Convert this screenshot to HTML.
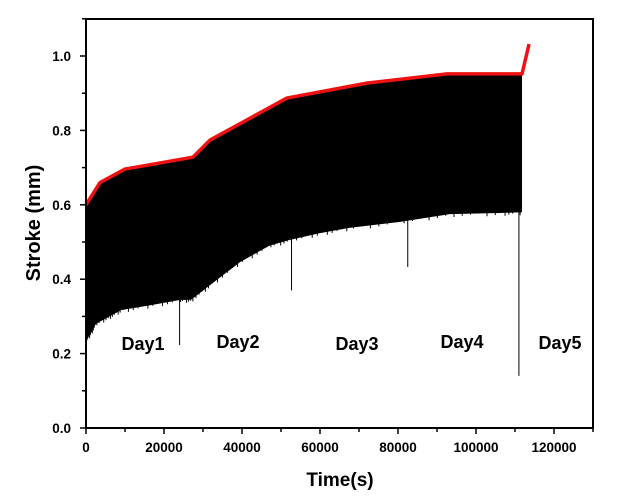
<!DOCTYPE html>
<html><head><meta charset="utf-8"><style>
body{margin:0;background:#fff}
svg text{font-family:"Liberation Sans",Arial,sans-serif;font-weight:bold}
</style></head><body>
<svg id="chart" width="623" height="495" viewBox="0 0 623 495" xmlns="http://www.w3.org/2000/svg">
<g id="plot"></g>
<rect x="86" y="19" width="507" height="409" fill="none" stroke="#000" stroke-width="2"/>
<g id="axes"></g>
<text transform="translate(40,223) rotate(-90)" text-anchor="middle" font-size="20">Stroke (mm)</text>
<text x="340" y="486" text-anchor="middle" font-size="19">Time(s)</text>
<text x="143" y="350" text-anchor="middle" font-size="18">Day1</text>
<text x="238" y="348" text-anchor="middle" font-size="18">Day2</text>
<text x="357" y="350" text-anchor="middle" font-size="18">Day3</text>
<text x="462" y="348" text-anchor="middle" font-size="18">Day4</text>
<text x="560" y="349" text-anchor="middle" font-size="18">Day5</text>
</svg>
<script>
const envTime=[0,3600,10000,27400,31800,51500,72000,92600,111800];
const envUpper=[0.6,0.66,0.696,0.728,0.774,0.887,0.927,0.952,0.952];
const redTime=[0,3600,10000,27400,31800,51500,72000,92600,111800,113600];
const redStroke=[0.6,0.66,0.696,0.728,0.774,0.887,0.927,0.952,0.952,1.032];
const lowTime=[0,1000,2500,6000,9000,16500,24000,27000,31800,39500,47000,52000,60000,67500,80500,93300,106000,111800];
const lowStroke=[0.242,0.25,0.28,0.3,0.317,0.33,0.344,0.345,0.384,0.446,0.49,0.505,0.524,0.538,0.554,0.575,0.578,0.58];
const spikeTime=[24000,52700,82500,111000];
const spikeStroke=[0.223,0.37,0.433,0.14];
const xTicks=[0,20000,40000,60000,80000,100000,120000];
const yTicks=[0.0,0.2,0.4,0.6,0.8,1.0];
const X=v=>86+v/20000*78, Y=v=>428-v*372;
const NS="http://www.w3.org/2000/svg";
const plot=document.getElementById('plot'), axes=document.getElementById('axes');
function mk(tag,attrs,parent){const e=document.createElementNS(NS,tag);for(const k in attrs)e.setAttribute(k,attrs[k]);parent.appendChild(e);return e;}
function lowAt(t){for(let i=0;i<lowTime.length-1;i++){if(t<=lowTime[i+1]){const f=(t-lowTime[i])/(lowTime[i+1]-lowTime[i]);return lowStroke[i]+f*(lowStroke[i+1]-lowStroke[i]);}}return lowStroke[lowStroke.length-1];}
let pts=envTime.map((t,i)=>X(t)+','+(Y(envUpper[i])+1));
for(let i=lowTime.length-1;i>=0;i--)pts.push(X(lowTime[i])+','+Y(lowStroke[i]));
const env=mk('polygon',{points:pts.join(' '),fill:'#000'},plot);


for(let i=0;i<lowTime.length-1;i++){
  for(let k=0;k<6;k++){
    const t=lowTime[i]+(lowTime[i+1]-lowTime[i])*(k+0.5)/6;
    const s=lowStroke[i]+(lowStroke[i+1]-lowStroke[i])*(k+0.5)/6;
    const b=mk('line',{x1:X(t),x2:X(t),y1:Y(s)-3,y2:Y(s)+((k*7+i)%4),stroke:'#000','stroke-width':1},plot);
    
    
  }
}
spikeTime.forEach((t,i)=>{
  const l=mk('line',{x1:X(t),x2:X(t),y1:Y(lowAt(t))-2,y2:Y(spikeStroke[i]),stroke:'#000','stroke-width':1},plot);
  
  
});
const red=mk('polyline',{points:redTime.map((t,i)=>X(t)+','+Y(redStroke[i])).join(' '),fill:'none',stroke:'#ee1111','stroke-width':3.5,'stroke-linejoin':'round'},plot);


for(let v=0;v<=130000;v+=10000){
  const maj=v%20000===0;
  const t=mk('line',{x1:X(v),x2:X(v),y1:428,y2:428+(maj?6:4),stroke:'#000','stroke-width':1.5},axes);
  
  
}
xTicks.forEach(v=>{
  const t=mk('text',{x:X(v),y:452,'text-anchor':'middle','font-size':13.5},axes);t.textContent=v;
  
  
});
for(let i=0;i<=11;i++){
  const v=i/10;
  const t=mk('line',{x1:86,x2:86-(i%2===0?6:4),y1:Y(v),y2:Y(v),stroke:'#000','stroke-width':1.5},axes);
  
  
}
yTicks.forEach(v=>{
  const t=mk('text',{x:71,y:Y(v)+5,'text-anchor':'end','font-size':13.5},axes);t.textContent=v.toFixed(1);
  
  
});
</script>
</body></html>
